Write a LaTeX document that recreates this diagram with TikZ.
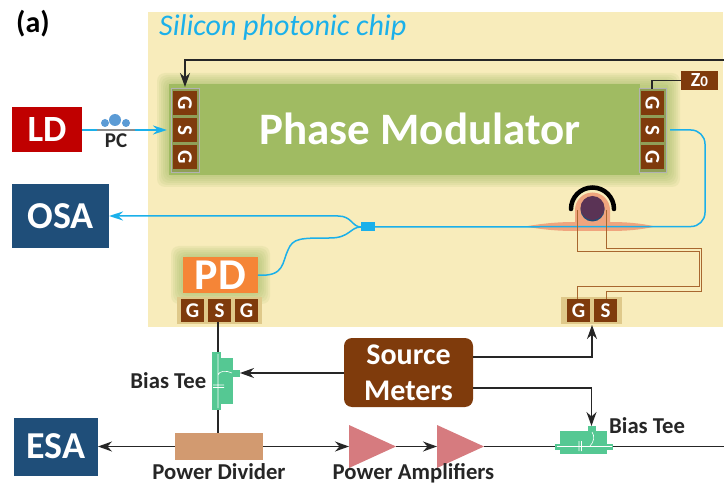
\documentclass[tikz,border=0pt]{standalone}
\usepackage{fontspec}
\setmainfont{Carlito}
\usetikzlibrary{arrows.meta,shapes.geometric,calc}
\definecolor{chipbg}{HTML}{F8ECBB}
\definecolor{modgreen}{HTML}{A0BB62}
\definecolor{padbrown}{HTML}{7F3B0C}
\definecolor{ldred}{HTML}{C00000}
\definecolor{navy}{HTML}{1F4E79}
\definecolor{optcyan}{HTML}{1BB0EA}
\definecolor{pdorange}{HTML}{F58537}
\definecolor{divtan}{HTML}{D29A70}
\definecolor{ampred}{HTML}{D67B7F}
\definecolor{teegreen}{HTML}{55C893}
\definecolor{ringsalmon}{HTML}{F0A57E}
\definecolor{ringpurple}{HTML}{5A3355}
\definecolor{trace}{HTML}{A8672F}
\definecolor{padhalo}{HTML}{DFC98A}
\definecolor{pcblue}{HTML}{5B9BD5}
\definecolor{padsurround}{HTML}{8F9F58}
\tikzset{
  blockbox/.style={inner sep=0pt,outer sep=0pt,text=white,font=\bfseries},
  padbox/.style={blockbox,fill=padbrown,minimum width=23pt,minimum height=23pt,font=\bfseries\fontsize{21}{21}\selectfont},
  vpad/.style={padbox,minimum width=24pt,minimum height=24pt},
  lbl/.style={inner sep=0pt,font=\bfseries\fontsize{22.7}{22.7}\selectfont,text=black!85},
  wire/.style={line width=1.5pt,draw=black!85},
  wirearrow/.style={wire,-{Stealth[length=14pt,width=10pt]}},
  opt/.style={line width=1.5pt,draw=optcyan},
  optarrow/.style={opt,-{Stealth[length=14pt,width=9pt]}},
  amp/.style={isosceles triangle,isosceles triangle stretches=true,fill=ampred,inner sep=0pt,outer sep=0pt,minimum height=47pt,minimum width=43pt},
  heater/.style={line width=0.9pt,draw=trace},
  tee/.style={fill=teegreen,draw=none,inner sep=0pt,outer sep=0pt}
}
\newcommand{\glowbox}[5]{%
  \foreach \g in {12,10,8,6,4,2}{
    \fill[#5,opacity=0.13,rounded corners=8pt] ($(#1,#2)+(-\g pt,\g pt)$) rectangle ($(#3,#4)+(\g pt,-\g pt)$);
  }%
}
\begin{document}
\begin{tikzpicture}[x=1pt,y=-1pt]
\useasboundingbox (0,0) rectangle (724,484);
% chip
\fill[chipbg] (148,12) rectangle (723,327);
\node[inner sep=0pt,font=\bfseries\fontsize{30}{30}\selectfont,text=black] (tag) at (33,24) {(a)};
\node[inner sep=0pt,anchor=west,font=\itshape\fontsize{30}{30}\selectfont,text=optcyan] (chiplabel) at (159,28) {Silicon photonic chip};
% modulator
\glowbox{169}{85}{668}{175}{modgreen}
\fill[modgreen!65!chipbg] (639,85) rectangle (668,175);
\node[blockbox,fill=modgreen,minimum width=471pt,minimum height=91pt] (mod) at (404.5,130) {};
\node[inner sep=0pt,text=white,font=\bfseries\fontsize{45}{45}\selectfont] (modtext) at (420,129) {Phase Modulator};
% left pads
\fill[padsurround,draw=black!30!white,line width=0.7pt] (171,88) rectangle (199,172);
\node[vpad] (lg1) at (185,103.5) {\rotatebox{-90}{G}};
\node[vpad] (ls) at (185,130.5) {\rotatebox{-90}{S}};
\node[vpad] (lg2) at (185,157.5) {\rotatebox{-90}{G}};
% right pads
\fill[padsurround,draw=black!30!white,line width=0.7pt] (639,88) rectangle (666,172);
\node[vpad,minimum width=23pt] (rg1) at (652.5,103.5) {\rotatebox{-90}{G}};
\node[vpad,minimum width=23pt] (rs) at (652.5,130.5) {\rotatebox{-90}{S}};
\node[vpad,minimum width=23pt] (rg2) at (652.5,157.5) {\rotatebox{-90}{G}};
\coordinate (rgtop) at (652,89);
\node[blockbox,fill=padbrown,minimum width=37pt,minimum height=19pt,font=\bfseries\fontsize{20}{20}\selectfont] (z0) at (699.5,80.5) {Z\fontsize{15}{15}\selectfont 0};
\draw[line width=1.3pt,draw=black!85] (rgtop) |- (z0.west);
% top drive line
\coordinate (drivestart) at (724,60);
\coordinate (driveend) at (185,87);
\draw[wirearrow] (drivestart) -| (driveend);
% sources
\node[blockbox,fill=ldred,minimum width=70pt,minimum height=45pt,font=\bfseries\fontsize{37}{37}\selectfont] (ld) at (47,129.5) {LD};
\node[blockbox,fill=navy,minimum width=97pt,minimum height=64pt,font=\bfseries\fontsize{38}{38}\selectfont] (osa) at (60.5,216.5) {OSA};
\node[blockbox,fill=navy,minimum width=84pt,minimum height=58pt,font=\bfseries\fontsize{38}{38}\selectfont] (esa) at (56,446.5) {ESA};
% PC
\coordinate (modin) at (167,130);
\draw[optarrow] (ld.east |- modin) -- (modin);
\fill[black!45] (97,129) rectangle (135,131);
\fill[pcblue] (105,123) circle (4pt) (115,120) circle (6pt) (126,123) circle (4pt);
\node[inner sep=0pt,font=\bfseries\fontsize{21}{21}\selectfont,text=black!85] (pclabel) at (116,141) {PC};
% ring
\fill[ringsalmon] (525,226.5) .. controls (545,223) and (560,222) .. (575,222) -- (610,222) .. controls (625,222) and (640,223) .. (655,226.5) .. controls (640,230) and (625,231) .. (610,231) -- (575,231) .. controls (560,231) and (545,230) .. (525,226.5) -- cycle;
\fill[ringsalmon] (575,228) -- (575,210) arc[start angle=180,end angle=360,radius=17.5pt,y radius=-17.5pt] -- (610,228) -- cycle;
\fill[navy] (592.5,209.5) circle (12pt);
\fill[ringpurple] (592.5,208) circle (12pt);
\draw[line width=4.5pt,line cap=round,draw=black] (571,209) arc[start angle=180,end angle=360,radius=21.5pt,y radius=-21.5pt];
% optical path
\coordinate (rsout) at (670,130);
\node[inner sep=0pt,fill=optcyan,minimum width=14pt,minimum height=9pt,outer sep=0pt] (coupler) at (368,227) {};
\draw[opt,rounded corners=14pt] (rsout) -- (705,130) -- (705,226.5) -- (coupler.east);
\draw[optarrow] (coupler.west) .. controls (352,227) and (352,216) .. (338,216) -- (osa.east |- 0,216);
% PD
\glowbox{183}{258}{258}{292}{modgreen}
\fill[padhalo] (177,297) rectangle (262,324);
\node[blockbox,fill=pdorange,minimum width=75pt,minimum height=36pt,font=\bfseries\fontsize{44}{44}\selectfont] (pd) at (220.5,275) {PD};
\draw[opt] (pd.east) .. controls (285,277) and (282,262) .. (288,250) .. controls (293,238) and (300,238) .. (330,238) .. controls (350,238) and (350,227) .. (coupler.west);
\node[padbox] (pg1) at (192.5,310.5) {G};
\node[padbox] (ps) at (219.5,310.5) {S};
\node[padbox] (pg2) at (246.5,310.5) {G};
% heater traces
\fill[padhalo] (561,297) rectangle (622,324);
\node[padbox] (hg) at (578.5,310.5) {G};
\node[padbox] (hs) at (605.5,310.5) {S};
\coordinate (ringl) at (577,210);
\coordinate (ringr) at (606,210);
\coordinate (hl1) at (577,251);
\coordinate (hr1) at (606,248);
\coordinate (hl2) at (577,286);
\coordinate (hr2) at (606,291);
\draw[heater] (ringl) -- (hl1) -- (699,251) -- (699,286) -- (hl2) -- (hg.north -| hl2);
\draw[heater] (ringr) -- (hr1) -- (701,248) -- (701,291) -- (hr2) -- (hs.north -| hr2);
% source meters
\node[blockbox,fill=padbrown,rounded corners=8pt,minimum width=129pt,minimum height=69pt,align=center,font=\bfseries\fontsize{30}{36}\selectfont] (sm) at (408.5,372.5) {\raisebox{-1pt}{Source}\\\raisebox{-1pt}{Meters}};
\coordinate (gsbottom) at (592,325);
\coordinate (smup) at (473,357);
\draw[wirearrow] (smup) -| (gsbottom);
% divider & amps
\node[blockbox,fill=divtan,minimum width=88pt,minimum height=27pt] (div) at (219,446.5) {};
\node[amp,anchor=apex] (amp1) at (396,446.5) {};
\node[amp,anchor=apex] (amp2) at (484,446.5) {};
\draw[wirearrow] (div.west) -- (esa.east);
\draw[wirearrow] (div.east) -- (amp1.lower side);
\draw[wirearrow] (amp1.apex) -- (amp2.lower side);
% left bias tee
\node[tee,minimum width=21pt,minimum height=46pt] (t1) at (222.5,381) {};
\node[tee,minimum width=9pt,minimum height=58pt] (t1s) at (216.5,381) {};
\node[tee,minimum width=8pt,minimum height=7pt] (t1p) at (236,373) {};
\draw[white,line width=0.6pt] (218,354) -- (218,408) (213,385) -- (224,385) (213,387.5) -- (224,387.5) (218,375) .. controls (219,371) and (226,370) .. (232,373);
\coordinate (t1top) at (218,352);
\coordinate (t1bot) at (218,410);
\draw[wire] (ps.south -| t1top) -- (t1top);
\draw[wire] (t1bot) -- (div.north -| t1bot);
\coordinate (smleft) at (344,373);
\draw[wirearrow] (smleft) -- (t1p.east);
\node[lbl,anchor=east] (t1l) at (206.5,381) {Bias Tee};
% right bias tee
\node[tee,minimum width=47pt,minimum height=23pt] (t2) at (583.5,442) {};
\node[tee,minimum width=58pt,minimum height=6pt] (t2s) at (584,446.5) {};
\node[tee,minimum width=8pt,minimum height=6pt] (t2p) at (591.5,429) {};
\draw[white,line width=0.6pt] (557,446.5) -- (612,446.5) (579,441) -- (579,451) (581.5,441) -- (581.5,451) (592,432) .. controls (595,436) and (594,442) .. (590,446);
\coordinate (smdown) at (473,388);
\draw[wirearrow] (smdown) -- (smdown -| t2p.north) -- (t2p.north);
\coordinate (lineend) at (724,446.5);
\draw[wire] (amp2.apex) -- (t2s.west);
\draw[wire] (t2s.east) -- (lineend);
\node[lbl,anchor=west] (t2l) at (609,426) {Bias Tee};
% labels
\node[lbl,anchor=base] (divl) at (219,479.5) {Power Divider};
\node[lbl,anchor=base] (ampl) at (413.5,479.5) {Power Amplifiers};
\end{tikzpicture}
\end{document}
